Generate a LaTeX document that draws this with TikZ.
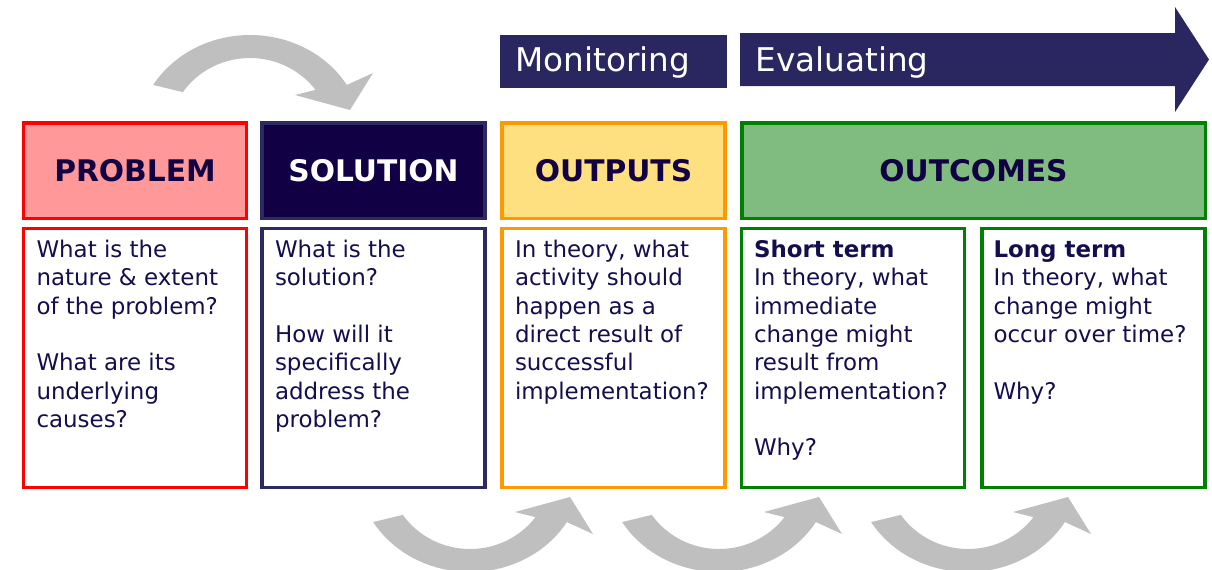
\documentclass[tikz,border=0pt]{standalone}
\usepackage{fontspec}
\setmainfont{DejaVu Sans}

\definecolor{probred}{RGB}{255,0,0}
\definecolor{probfill}{RGB}{255,153,153}
\definecolor{solfill}{RGB}{17,0,68}
\definecolor{solline}{RGB}{44,42,98}
\definecolor{outline}{RGB}{255,153,0}
\definecolor{outfill}{RGB}{255,224,128}
\definecolor{effline}{RGB}{0,128,0}
\definecolor{efffill}{RGB}{128,188,128}
\definecolor{bandfill}{RGB}{42,39,96}
\definecolor{navytext}{RGB}{20,14,78}
\definecolor{bendgrey}{RGB}{191,191,191}

\tikzset{every picture/.style={line width=0.75pt}}
\tikzset{
  hdrbox/.style={draw, line width=2.6pt, minimum width=167.25pt, minimum height=71.6pt, inner sep=0pt, font=\bfseries\fontsize{22.3}{26}\selectfont},
  lowbox/.style={draw, line width=2.6pt, fill=white, minimum width=167.25pt, minimum height=193.9pt, inner sep=0pt},
  bodytxt/.style={anchor=north west, inner sep=0pt, align=left, text=navytext, font=\fontsize{17.2}{21.25}\selectfont},
  bandtxt/.style={anchor=base west, inner sep=0pt, text=white, font=\fontsize{24.5}{28}\selectfont},
  bendarrow/.pic={
    \fill[bendgrey] plot[domain=149:31, samples=60] ({113*cos(\x)},{103*sin(\x)})
      -- (123,65) -- (100,28) -- (45,43)
      -- plot[domain=37:145, samples=60] ({82*cos(\x)},{80*sin(\x)}) -- cycle;
  }
}

\begin{document}
\begin{tikzpicture}[x=0.75pt,y=0.75pt,yscale=-1,xscale=1]
\useasboundingbox (0,0) rectangle (1212,569);

%Shape: Curved Arrows
\pic[transform shape, yscale=-1] at (250,138) {bendarrow};
\pic[transform shape] at (470,469) {bendarrow};
\pic[transform shape] at (719,469) {bendarrow};
\pic[transform shape] at (968,469) {bendarrow};

%Shape: Rectangle (monitoring band)
\node (monbox) at (613.5,61.5) [fill=bandfill, minimum width=170.25pt, minimum height=39.75pt, inner sep=0pt] {};
%Shape: Right Arrow (evaluating band)
\fill[bandfill] (740,33) -- (1175,33) -- (1175,7) -- (1209,59.5) -- (1175,112) -- (1175,86) -- (740,86) -- cycle ;

% Text Node
\node (montxt) at (515,71.7) [bandtxt] {Monitoring};
% Text Node
\node (evaltxt) at (755,71.7) [bandtxt] {Evaluating};

%Shape: Rectangle (headers)
\node (probhdr) at (135,170.75) [hdrbox, draw=probred, fill=probfill, text=solfill] {PROBLEM};
\node (solhdr) at (373.5,170.75) [hdrbox, draw=solline, fill=solfill, text=white] {SOLUTION};
\node (outhdr) at (613.5,170.75) [hdrbox, draw=outline, fill=outfill, text=solfill] {OUTPUTS};
\node (effhdr) at (973.5,170.75) [hdrbox, draw=effline, fill=efffill, text=solfill, minimum width=347.6pt] {OUTCOMES};

%Shape: Rectangle (questions)
\node (problow) at (135,358) [lowbox, draw=probred] {};
\node (sollow) at (373.5,358) [lowbox, draw=solline] {};
\node (outlow) at (613.5,358) [lowbox, draw=outline] {};
\node (shortlow) at (853,358) [lowbox, draw=effline] {};
\node (longlow) at (1093.5,358) [lowbox, draw=effline] {};

% Text Node
\node (probtxt) at (36,237) [bodytxt] {\strut What is the\\nature \& extent\\of the problem?\\[21.25pt]What are its\\underlying\\causes?};
% Text Node
\node (soltxt) at (274.5,237) [bodytxt] {\strut What is the\\solution?\\[21.25pt]How will it\\specifically\\address the\\problem?};
% Text Node
\node (outtxt) at (514.5,237) [bodytxt] {\strut In theory, what\\activity should\\happen as a\\direct result of\\successful\\implementation?};
% Text Node
\node (shorttxt) at (753.5,237) [bodytxt] {\strut\textbf{Short term}\\In theory, what\\immediate\\change might\\result from\\implementation?\\[21.25pt]Why?};
% Text Node
\node (longtxt) at (993,237) [bodytxt] {\strut\textbf{Long term}\\In theory, what\\change might\\occur over time?\\[21.25pt]Why?};

\end{tikzpicture}
\end{document}
